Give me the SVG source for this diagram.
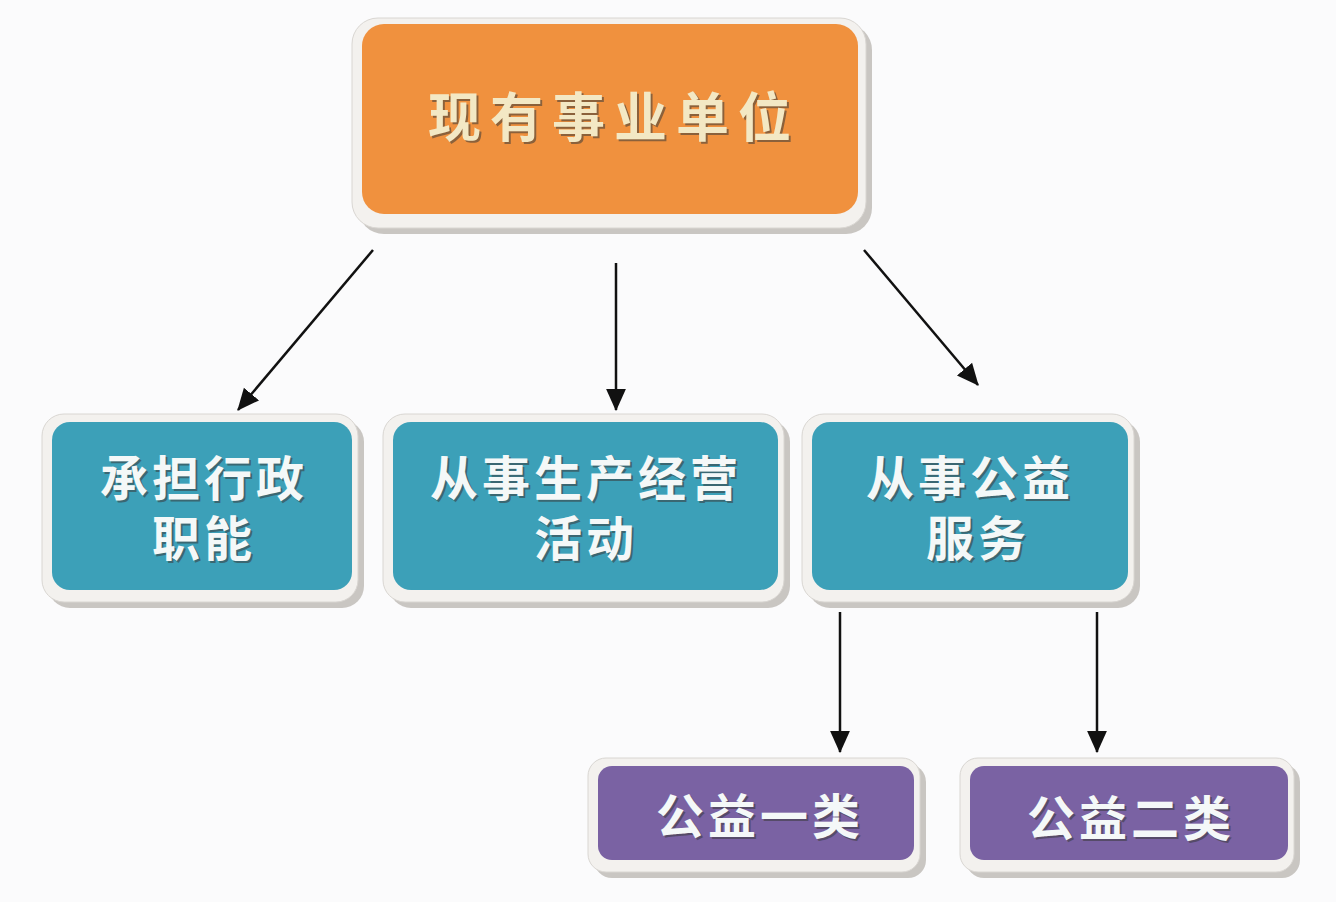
<svg xmlns="http://www.w3.org/2000/svg" width="1336" height="902" viewBox="0 0 1336 902">
<defs>
<style>
.bez{fill:#f3f1ee;stroke:#d9d6d2;stroke-width:1}
.shd{fill:#c9c6c2}
.org{fill:#f0913e}
.blu{fill:#3ca0b8}
.pur{fill:#7a62a3}
.t{font-family:"Liberation Serif","Noto Sans CJK SC",serif;font-weight:bold;text-anchor:middle;letter-spacing:4px}
.tt{letter-spacing:9px}
.tw{fill:#f4f8f8}
.tc{fill:#f3e8c4}
.ts{fill:#3a3a3a;opacity:0.55}
.ln{stroke:#111;stroke-width:2.5;fill:none}
</style>
<marker id="arr" viewBox="0 0 20 20" refX="19" refY="10" markerWidth="22" markerHeight="22" markerUnits="userSpaceOnUse" orient="auto">
<path d="M0,1 L20,10 L0,19 Z" fill="#111"/>
</marker>
</defs>
<rect width="1336" height="902" fill="#fbfbfc"/>

<g id="connectors">
<line class="ln" x1="373" y1="250" x2="238" y2="410" marker-end="url(#arr)"/>
<line class="ln" x1="616" y1="263" x2="616" y2="410" marker-end="url(#arr)"/>
<line class="ln" x1="864" y1="250" x2="978" y2="385" marker-end="url(#arr)"/>
<line class="ln" x1="840" y1="612" x2="840" y2="752" marker-end="url(#arr)"/>
<line class="ln" x1="1097" y1="612" x2="1097" y2="752" marker-end="url(#arr)"/>
</g>

<g id="node-top">
<rect class="shd" x="358" y="24" width="514" height="210" rx="26"/>
<rect class="bez" x="352" y="18" width="514" height="210" rx="26"/>
<rect class="org" x="362" y="24" width="496" height="190" rx="22"/>
<text class="t tt ts" x="616" y="139" font-size="53">现有事业单位</text>
<text class="t tt tc" x="614" y="137" font-size="53">现有事业单位</text>
</g>

<g id="node-admin">
<rect class="shd" x="48" y="420" width="316" height="188" rx="22"/>
<rect class="bez" x="42" y="414" width="316" height="188" rx="22"/>
<rect class="blu" x="52" y="422" width="300" height="168" rx="18"/>
<text class="t ts" x="206" y="498" font-size="48">承担行政</text>
<text class="t tw" x="204" y="496" font-size="48">承担行政</text>
<text class="t ts" x="206" y="558" font-size="48">职能</text>
<text class="t tw" x="204" y="556" font-size="48">职能</text>
</g>

<g id="node-business">
<rect class="shd" x="389" y="420" width="401" height="188" rx="22"/>
<rect class="bez" x="383" y="414" width="401" height="188" rx="22"/>
<rect class="blu" x="393" y="422" width="385" height="168" rx="18"/>
<text class="t ts" x="588" y="498" font-size="48">从事生产经营</text>
<text class="t tw" x="586" y="496" font-size="48">从事生产经营</text>
<text class="t ts" x="588" y="558" font-size="48">活动</text>
<text class="t tw" x="586" y="556" font-size="48">活动</text>
</g>

<g id="node-public">
<rect class="shd" x="808" y="420" width="332" height="188" rx="22"/>
<rect class="bez" x="802" y="414" width="332" height="188" rx="22"/>
<rect class="blu" x="812" y="422" width="316" height="168" rx="18"/>
<text class="t ts" x="972" y="498" font-size="48">从事公益</text>
<text class="t tw" x="970" y="496" font-size="48">从事公益</text>
<text class="t ts" x="980" y="558" font-size="48">服务</text>
<text class="t tw" x="978" y="556" font-size="48">服务</text>
</g>

<g id="node-class1">
<rect class="shd" x="594" y="764" width="332" height="114" rx="18"/>
<rect class="bez" x="588" y="758" width="332" height="114" rx="18"/>
<rect class="pur" x="598" y="766" width="316" height="94" rx="14"/>
<text class="t ts" x="762" y="836" font-size="48">公益一类</text>
<text class="t tw" x="760" y="834" font-size="48">公益一类</text>
</g>

<g id="node-class2">
<rect class="shd" x="966" y="764" width="334" height="114" rx="18"/>
<rect class="bez" x="960" y="758" width="334" height="114" rx="18"/>
<rect class="pur" x="970" y="766" width="318" height="94" rx="14"/>
<text class="t ts" x="1133" y="838" font-size="48">公益二类</text>
<text class="t tw" x="1131" y="836" font-size="48">公益二类</text>
</g>
</svg>
